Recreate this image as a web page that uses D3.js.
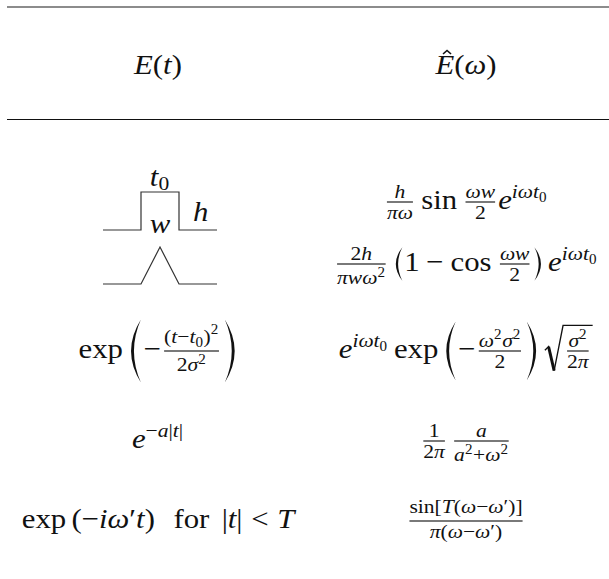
<!DOCTYPE html>
<html>
<head>
<meta charset="utf-8">
<script src="https://cdn.jsdelivr.net/npm/d3@7"></script>
<style>
  body { margin: 0; background: #fff; }
</style>
</head>
<body>
<script>
//Formula Node Helpers (italic, roman, space, scripts, fraction, delimiters, root, hat)
function I(s) { return {k: 'i', s: s}; }
function R(s) { return {k: 'r', s: s}; }
function SP(em) { return {k: 'sp', em: em}; }
function SUP(n) { return {k: 'sup', n: n}; }
function SUB(n) { return {k: 'sub', n: n}; }
function FR(n, d) { return {k: 'frac', n: n, d: d}; }
function LR(n, em) { return {k: 'lr', n: n, em: em}; }
function SQ(n) { return {k: 'sqrt', n: n}; }
function HAT(n) { return {k: 'hat', n: n}; }

//Table Data
var columns = ['time', 'frequency'];

var headerCells = [
    [I('E'), R('('), I('t'), R(')')],
    [HAT([I('E')]), R('('), I('ω'), R(')')]
];

//Left cells: rows 1 and 2 are drawn as shapes, the rest are formulas
var leftCells = [
    null,
    null,
    [R('exp'), SP(0.17), LR([R('−'), FR([R('('), I('t'), R('−'), I('t'), SUB([R('0')]), R(')'), SUP([R('2')])],
                                        [R('2'), I('σ'), SUP([R('2')])])], 2.25)],
    [I('e'), SUP([R('−'), I('a'), R('|'), I('t'), R('|')])],
    [R('exp'), SP(0.17), R('('), R('−'), I('i'), I('ω'), R('′'), I('t'), R(')'), SP(0.6),
     R('for'), SP(0.4), R('|'), I('t'), R('|'), SP(0.28), R('<'), SP(0.28), I('T')]
];

var rightCells = [
    [FR([I('h')], [I('π'), I('ω')]), SP(0.17), R('sin'), SP(0.17), FR([I('ω'), I('w')], [R('2')]),
     I('e'), SUP([I('i'), I('ω'), I('t'), SUB([R('0')])])],
    [FR([R('2'), I('h')], [I('π'), I('w'), I('ω'), SUP([R('2')])]), SP(0.17),
     LR([R('1'), SP(0.22), R('−'), SP(0.22), R('cos'), SP(0.17), FR([I('ω'), I('w')], [R('2')])], 1.2),
     SP(0.17), I('e'), SUP([I('i'), I('ω'), I('t'), SUB([R('0')])])],
    [I('e'), SUP([I('i'), I('ω'), I('t'), SUB([R('0')])]), SP(0.17), R('exp'), SP(0.17),
     LR([R('−'), FR([I('ω'), SUP([R('2')]), I('σ'), SUP([R('2')])], [R('2')])], 2.1), SP(0.17),
     SQ([FR([I('σ'), SUP([R('2')])], [R('2'), I('π')])])],
    [FR([R('1')], [R('2'), I('π')]), SP(0.1), FR([I('a')], [I('a'), SUP([R('2')]), R('+'), I('ω'), SUP([R('2')])])],
    [FR([R('sin'), R('['), I('T'), R('('), I('ω'), R('−'), I('ω'), R('′'), R(')'), R(']')],
        [I('π'), R('('), I('ω'), R('−'), I('ω'), R('′'), R(')')])]
];

//Pulse shapes for the first two rows (x in pulse widths, y in heights)
var pulseShape = [[-1.5, 0], [-0.5, 0], [-0.5, 1], [0.5, 1], [0.5, 0], [1.5, 0]];
var triangleShape = [[-1.5, 0], [-0.5, 0], [0, 1], [0.5, 0], [1.5, 0]];

//Layout
var svgWidth = 609;
var svgHeight = 579;
var FS = 28;
var SX = 1.1;
var headerBaseline = 74;
var rowBaselines = [209, 271, 358, 448, 528];

var svg = d3.select('body')
    .append('svg')
    .attr('width', svgWidth)
    .attr('height', svgHeight)
    .style('font-family', '"Liberation Serif", serif');

var colX = d3.scalePoint()
    .domain(columns)
    .range([158, 466]);

//Measuring text with a canvas
var ctx = document.createElement('canvas').getContext('2d');
function measure(str, size, italic) {
    ctx.font = (italic ? 'italic ' : '') + size + 'px "Liberation Serif"';
    var m = ctx.measureText(str);
    return {w: m.width, a: m.actualBoundingBoxAscent, d: m.actualBoundingBoxDescent};
}

function moved(ops, dx, dy) {
    return ops.map(o => Object.assign({}, o, {x: o.x + dx, y: o.y + dy}));
}

function layout(nodes, s) {
    var w = 0, a = 0, d = 0, ops = [], prev = {a: 0, d: 0};
    nodes.forEach(function(n) {
        var b = build(n, s, prev);
        ops = ops.concat(moved(b.ops, w, 0));
        w += b.w;
        a = Math.max(a, b.a);
        d = Math.max(d, b.d);
        if (n.k !== 'sup' && n.k !== 'sub') prev = b;
    });
    return {w: w, a: a, d: d, ops: ops};
}

function build(n, s, prev) {
    var ax = 0.25 * s;
    if (n.k === 'i' || n.k === 'r') {
        var m = measure(n.s, s, n.k === 'i');
        return {w: m.w, a: m.a, d: m.d, ops: [{t: 'text', x: 0, y: 0, s: n.s, size: s, it: n.k === 'i'}]};
    }
    if (n.k === 'sp') return {w: n.em * s, a: 0, d: 0, ops: []};
    if (n.k === 'sup' || n.k === 'sub') {
        var c = layout(n.n, s * 0.7);
        var dy = n.k === 'sup'
            ? -Math.max(0.38 * s, prev.a - 0.25 * s, c.d + 0.12 * s)
            : Math.max(0.16 * s, c.a - 0.36 * s);
        return {w: c.w + 0.03 * s, a: c.a - dy, d: c.d + dy, ops: moved(c.ops, 0, dy)};
    }
    if (n.k === 'frac') {
        var cs = s * 0.7, nu = layout(n.n, cs), de = layout(n.d, cs);
        var th = 0.04 * s, gap = 0.07 * s, nd = 0.1 * s;
        var nb = -Math.max(0.4 * s, ax + th / 2 + gap + nu.d);
        var db = Math.max(0.35 * s, -ax + th / 2 + gap + de.a);
        var inner = Math.max(nu.w, de.w);
        var fops = moved(nu.ops, nd + (inner - nu.w) / 2, nb)
            .concat(moved(de.ops, nd + (inner - de.w) / 2, db))
            .concat([{t: 'rule', x: nd, y: -ax - th / 2, w: inner, h: th}]);
        return {w: inner + 2 * nd, a: -nb + nu.a, d: db + de.d, ops: fops};
    }
    if (n.k === 'lr') {
        var c = layout(n.n, s);
        var H = n.em * s;
        if (n.em <= 1) {
            var pw0 = measure('(', s, false).w;
            var o = [{t: 'text', x: 0, y: 0, s: '(', size: s, it: false}]
                .concat(moved(c.ops, pw0, 0))
                .concat([{t: 'text', x: pw0 + c.w, y: 0, s: ')', size: s, it: false}]);
            return {w: 2 * pw0 + c.w, a: Math.max(c.a, 0.7 * s), d: Math.max(c.d, 0.2 * s), ops: o};
        }
        var pw = (0.16 * n.em + 0.14) * s;
        var y0 = -ax - H / 2, y1 = -ax + H / 2, mid = -ax;
        var xs = 0.18 * pw, xe = 0.82 * pw, tk = Math.max(1.3, 0.05 * s + 0.02 * H);
        var left = `M${xe},${y0}Q${2 * xs - xe},${mid} ${xe},${y1}Q${2 * (xs + tk) - xe},${mid} ${xe},${y0}Z`;
        var right = `M${pw - xe},${y0}Q${pw - (2 * xs - xe)},${mid} ${pw - xe},${y1}Q${pw - (2 * (xs + tk) - xe)},${mid} ${pw - xe},${y0}Z`;
        var lops = [{t: 'path', x: 0, y: 0, d: left, fill: '#111'}]
            .concat(moved(c.ops, pw, 0))
            .concat([{t: 'path', x: pw + c.w, y: 0, d: right, fill: '#111'}]);
        return {w: 2 * pw + c.w, a: Math.max(c.a, -y0), d: Math.max(c.d, y1), ops: lops};
    }
    if (n.k === 'sqrt') {
        var c = layout(n.n, s);
        var th = 0.04 * s, gap = 0.1 * s;
        var yTop = -(c.a + gap + th), yBot = c.d + 0.1 * s, Ht = yBot - yTop;
        var rw = 0.62 * s;
        var p = [[0.03 * s, yBot - 0.45 * Ht], [0.15 * s, yBot - 0.53 * Ht], [0.33 * s, yBot],
                 [rw, yTop], [rw + c.w + 0.06 * s, yTop]];
        var sops = [
            {t: 'path', x: 0, y: 0, d: d3.line()(p), stroke: '#111', sw: th * 1.1},
            {t: 'path', x: 0, y: 0, d: d3.line()([p[1], p[2]]), stroke: '#111', sw: th * 2.4}
        ].concat(moved(c.ops, rw + 0.03 * s, 0));
        return {w: rw + c.w + 0.08 * s, a: -yTop + th, d: yBot, ops: sops};
    }
    if (n.k === 'hat') {
        var c = layout(n.n, s);
        var hx = c.w / 2 + 0.07 * s, hy = -(c.a + 0.07 * s), half = 0.13 * s;
        var hops = c.ops.concat([{t: 'path', x: 0, y: 0,
            d: `M${hx - half},${hy}L${hx},${hy - 0.13 * s}L${hx + half},${hy}`, stroke: '#111', sw: 0.05 * s}]);
        return {w: c.w, a: c.a + 0.2 * s, d: c.d, ops: hops};
    }
    return {w: 0, a: 0, d: 0, ops: []};
}

//Draw a formula centred at cx on baseline y
function drawFormula(nodes, cx, y, anchor) {
    var box = layout(nodes, FS);
    var x0 = anchor === 'start' ? cx : cx - box.w * SX / 2;
    var g = svg.append('g')
        .attr('transform', `translate(${x0},${y}) scale(${SX},1)`);
    g.selectAll('text')
        .data(box.ops.filter(o => o.t === 'text'))
        .join('text')
        .attr('x', o => o.x)
        .attr('y', o => o.y)
        .attr('font-size', o => o.size)
        .attr('font-style', o => o.it ? 'italic' : 'normal')
        .attr('fill', '#111')
        .text(o => o.s);
    g.selectAll('rect')
        .data(box.ops.filter(o => o.t === 'rule'))
        .join('rect')
        .attr('x', o => o.x)
        .attr('y', o => o.y)
        .attr('width', o => o.w)
        .attr('height', o => o.h)
        .attr('fill', '#111');
    g.selectAll('path')
        .data(box.ops.filter(o => o.t === 'path'))
        .join('path')
        .attr('transform', o => `translate(${o.x},${o.y})`)
        .attr('d', o => o.d)
        .attr('fill', o => o.fill || 'none')
        .attr('stroke', o => o.stroke || 'none')
        .attr('stroke-width', o => o.sw || 0)
        .attr('stroke-linejoin', 'miter');
}

//Table Rules
svg.append('line')
    .attr('x1', 7).attr('x2', svgWidth)
    .attr('y1', 7).attr('y2', 7)
    .attr('stroke', '#666')
    .attr('stroke-width', 1.4);
svg.append('line')
    .attr('x1', 7).attr('x2', svgWidth)
    .attr('y1', 119.5).attr('y2', 119.5)
    .attr('stroke', '#111')
    .attr('stroke-width', 1);

//Header
headerCells.forEach((cell, i) => drawFormula(cell, colX(columns[i]), headerBaseline));

//Body formulas
leftCells.forEach((cell, i) => { if (cell) drawFormula(cell, colX(columns[0]), rowBaselines[i]); });
rightCells.forEach((cell, i) => drawFormula(cell, colX(columns[1]), rowBaselines[i]));

//Pulse diagrams
var dCenter = colX(columns[0]) + 2;
var pulseX = d3.scaleLinear().domain([-1.5, 1.5]).range([dCenter - 57, dCenter + 57]);
var pulseY = d3.scaleLinear().domain([0, 1]).range([rowBaselines[0] + 21, rowBaselines[0] - 17]);
var triY = d3.scaleLinear().domain([0, 1]).range([rowBaselines[1] + 13, rowBaselines[1] - 24]);

svg.append('path')
    .attr('d', d3.line().x(p => pulseX(p[0])).y(p => pulseY(p[1]))(pulseShape))
    .attr('fill', 'none')
    .attr('stroke', '#333')
    .attr('stroke-width', 1.2);
svg.append('path')
    .attr('d', d3.line().x(p => pulseX(p[0])).y(p => triY(p[1]))(triangleShape))
    .attr('fill', 'none')
    .attr('stroke', '#333')
    .attr('stroke-width', 1.2);

//Pulse labels
drawFormula([I('t'), SUB([R('0')])], pulseX(0), pulseY(1) - 6);
drawFormula([I('h')], pulseX(0.87), pulseY(0.25), 'start');
drawFormula([I('w')], pulseX(0), pulseY(-0.08));
</script>
</body>
</html>
